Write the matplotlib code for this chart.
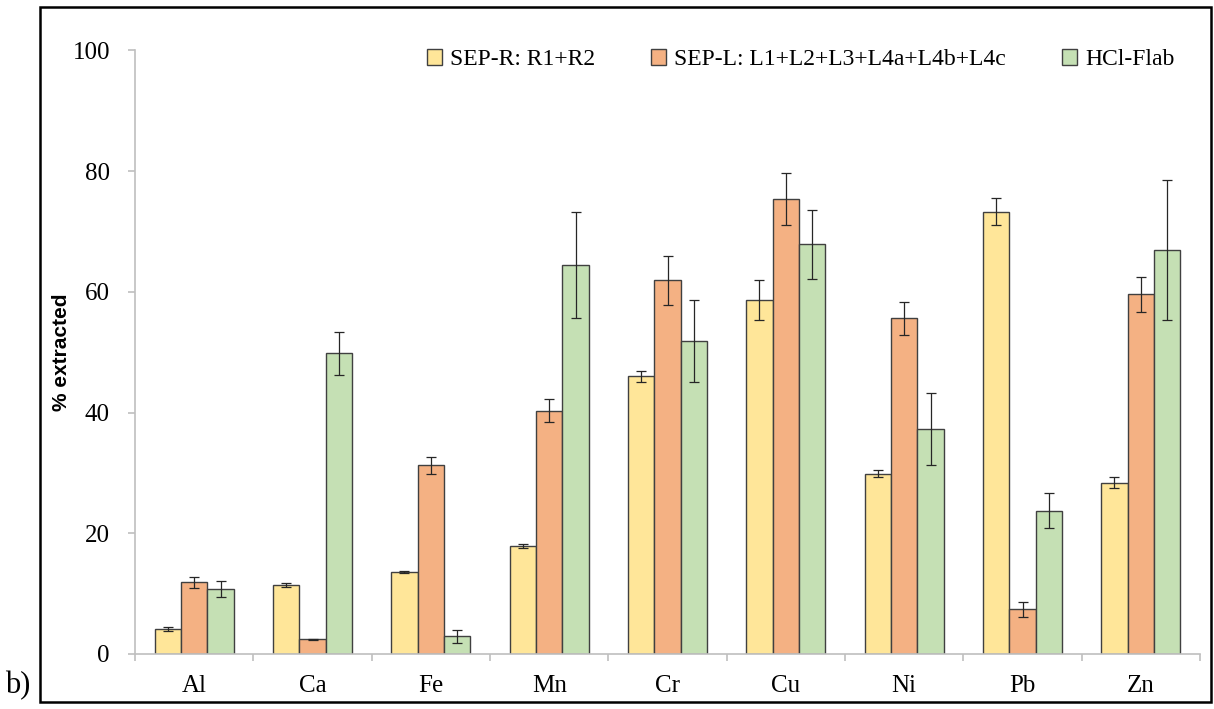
import matplotlib
matplotlib.use("Agg")
import matplotlib.pyplot as plt
import numpy as np
from matplotlib.patches import Rectangle

# Elements analysed
elements = ["Al", "Ca", "Fe", "Mn", "Cr", "Cu", "Ni", "Pb", "Zn"]

# Percent extracted (mean) and standard deviation for each procedure
sep_r = [4.1, 11.4, 13.6, 17.9, 46.0, 58.7, 29.9, 73.3, 28.4]
sep_r_err = [0.3, 0.3, 0.15, 0.4, 0.85, 3.3, 0.6, 2.3, 0.9]

sep_l = [11.9, 2.4, 31.3, 40.3, 61.9, 75.4, 55.6, 7.4, 59.6]
sep_l_err = [0.9, 0.15, 1.4, 1.9, 4.0, 4.3, 2.8, 1.2, 2.9]

hcl = [10.8, 49.8, 2.9, 64.5, 51.8, 67.9, 37.3, 23.7, 66.9]
hcl_err = [1.3, 3.5, 1.1, 8.8, 6.8, 5.7, 6.0, 2.9, 11.6]

series_labels = ["SEP-R: R1+R2", "SEP-L: L1+L2+L3+L4a+L4b+L4c", "HCl-Flab"]
series_colors = ["#FFE699", "#F4B183", "#C5E0B4"]

y_ticks = [0, 20, 40, 60, 80, 100]

serif = "Liberation Serif"

fig = plt.figure(figsize=(12.14, 7.09), dpi=100)
ax = fig.add_axes([0.1112, 0.0776, 0.8773, 0.8512])

x = np.arange(len(elements)) + 0.5
width = 0.223
offsets = [-width, 0.0, width]
means = [sep_r, sep_l, hcl]
errs = [sep_r_err, sep_l_err, hcl_err]

handles = []
for off, m, e, c, lab in zip(offsets, means, errs, series_colors, series_labels):
    bars = ax.bar(x + off, m, width=width, color=c, edgecolor="#404040",
                  linewidth=1.0, label=lab, zorder=2)
    ax.errorbar(x + off, m, yerr=e, fmt="none", ecolor="#262626",
                elinewidth=0.9, capsize=3.3, capthick=0.9, zorder=3)
    handles.append(bars)

ax.set_xlim(0, len(elements))
ax.set_ylim(0, 100)

# Category boundaries as major ticks, names as minor tick labels
ax.set_xticks(np.arange(len(elements) + 1))
ax.set_xticklabels([])
ax.set_xticks(x, minor=True)
ax.set_xticklabels(elements, minor=True, fontfamily=serif, fontsize=18)
ax.tick_params(axis="x", which="major", direction="out", length=5,
               color="#BFBFBF", width=1.2)
ax.tick_params(axis="x", which="minor", length=0, pad=15)

ax.set_yticks(y_ticks)
ax.set_yticklabels([str(t) for t in y_ticks], fontfamily=serif, fontsize=18)
ax.tick_params(axis="y", direction="out", length=5, color="#BFBFBF",
               width=1.2, pad=13)

for side in ("top", "right"):
    ax.spines[side].set_visible(False)
for side in ("left", "bottom"):
    ax.spines[side].set_color("#BFBFBF")
    ax.spines[side].set_linewidth(1.2)

ax.set_ylabel("% extracted", fontfamily="Liberation Sans", fontweight="bold",
              fontsize=15, labelpad=1)

leg = ax.legend(handles=handles, labels=series_labels, ncol=3,
                loc="center", bbox_to_anchor=(0.625, 0.985),
                frameon=False, prop={"family": serif, "size": 17},
                handlelength=0.65, handleheight=0.65, handletextpad=0.35,
                columnspacing=2.35)

# Outer frame and panel letter
fig.patches.append(Rectangle((0.033, 0.0099), 0.9646, 0.980,
                             transform=fig.transFigure, fill=False,
                             edgecolor="black", linewidth=1.8))
fig.text(0.004, 0.033, "b)", fontfamily=serif, fontsize=22,
         ha="left", va="center")

fig.savefig("out.png", dpi=100)
